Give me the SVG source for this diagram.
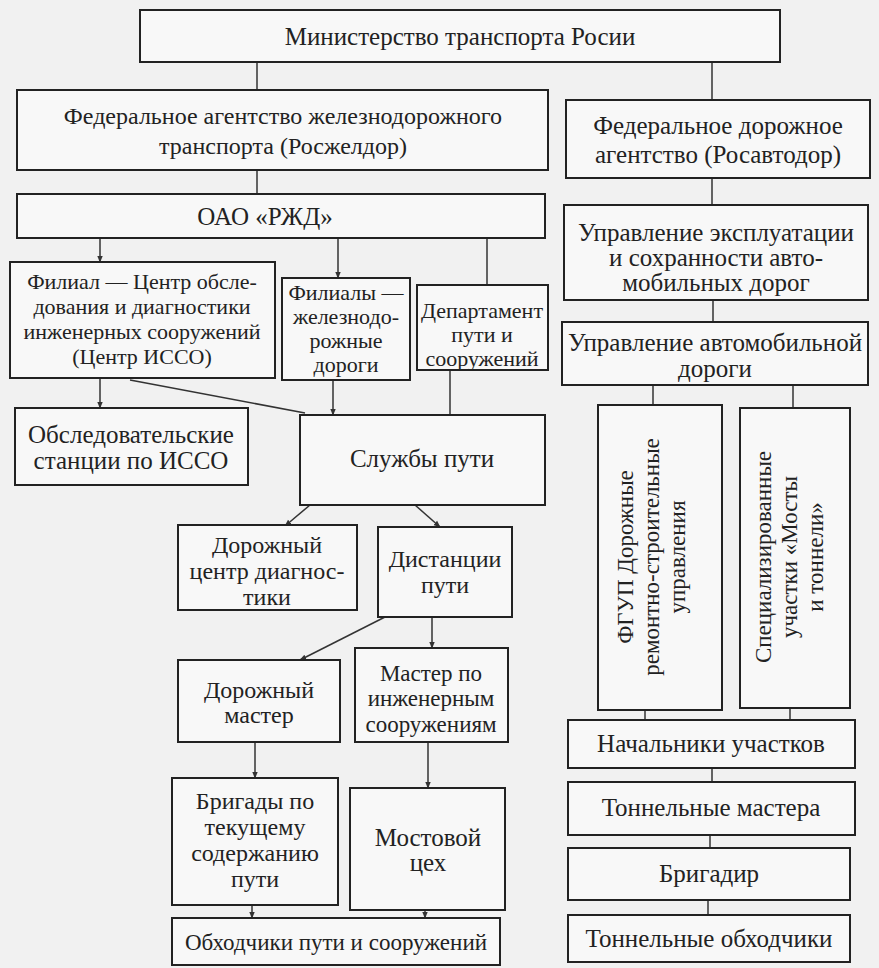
<svg xmlns="http://www.w3.org/2000/svg" width="879" height="968" viewBox="0 0 879 968">
<defs>
<style>
.bx{fill:#f8f8f8;stroke:#222;stroke-width:2}
text{font-family:'Liberation Serif','Times New Roman','DejaVu Serif',serif;font-size:25px;fill:#222;text-anchor:middle}
.s24{font-size:24px}
.s23{font-size:23px}
.s22{font-size:22px}
.c{stroke:#333;stroke-width:1.5;fill:none}
.a{stroke:#333;stroke-width:1.5;fill:none;marker-end:url(#ar)}
</style>
<marker id="ar" viewBox="0 0 10 10" refX="9" refY="5" markerWidth="7" markerHeight="7" orient="auto-start-reverse" markerUnits="userSpaceOnUse">
<path d="M0,1 L10,5 L0,9 z" fill="#333"/>
</marker>
</defs>
<rect width="879" height="968" fill="#f1f1f1"/>
<g id="connectors">
<line class="c" x1="257" y1="62" x2="257" y2="90"/>
<line class="c" x1="712" y1="62" x2="712" y2="100"/>
<line class="c" x1="257" y1="170" x2="257" y2="194"/>
<line class="c" x1="712" y1="178" x2="712" y2="205"/>
<line class="a" x1="100" y1="238" x2="100" y2="262"/>
<line class="a" x1="338" y1="238" x2="338" y2="278"/>
<line class="c" x1="487" y1="238" x2="487" y2="285"/>
<line class="c" x1="713" y1="300" x2="713" y2="322"/>
<line class="a" x1="100" y1="378" x2="100" y2="408"/>
<line class="c" x1="130" y1="380" x2="305" y2="413"/>
<line class="a" x1="333" y1="380" x2="333" y2="415"/>
<line class="c" x1="450" y1="370" x2="450" y2="415"/>
<line class="c" x1="653" y1="385" x2="653" y2="405"/>
<line class="c" x1="793" y1="385" x2="793" y2="408"/>
<line class="a" x1="310" y1="505" x2="285" y2="526"/>
<line class="a" x1="415" y1="505" x2="440" y2="527"/>
<line class="a" x1="385" y1="617" x2="300" y2="660"/>
<line class="a" x1="432" y1="617" x2="432" y2="648"/>
<line class="a" x1="255" y1="742" x2="255" y2="778"/>
<line class="a" x1="428" y1="742" x2="428" y2="788"/>
<line class="a" x1="252" y1="905" x2="252" y2="918"/>
<line class="a" x1="425" y1="910" x2="425" y2="918"/>
<line class="c" x1="645" y1="710" x2="645" y2="720"/>
<line class="c" x1="790" y1="708" x2="790" y2="720"/>
<line class="c" x1="712" y1="768" x2="712" y2="782"/>
<line class="c" x1="710" y1="835" x2="710" y2="848"/>
<line class="c" x1="708" y1="900" x2="708" y2="915"/>
</g>
<g id="ministry"><rect class="bx" x="140" y="10" width="640" height="52"/><text x="460" y="45">Министерство транспорта Росии</text></g>
<g id="roszheldor"><rect class="bx" x="17" y="90" width="531" height="80"/><text class="s24" x="283" y="124">Федеральное агентство железнодорожного</text><text class="s24" x="283" y="154">транспорта (Росжелдор)</text></g>
<g id="rosavtodor"><rect class="bx" x="566" y="100" width="304" height="78"/><text x="718" y="134">Федеральное дорожное</text><text x="718" y="163">агентство (Росавтодор)</text></g>
<g id="rzd"><rect class="bx" x="17" y="194" width="528" height="44"/><text x="265" y="225">ОАО «РЖД»</text></g>
<g id="upr-expl"><rect class="bx" x="564" y="205" width="304" height="95"/><text x="716" y="241">Управление эксплуатации</text><text x="716" y="266">и сохранности авто-</text><text x="716" y="291">мобильных дорог</text></g>
<g id="filial-isso"><rect class="bx" x="10" y="262" width="265" height="116"/><text class="s22" x="142" y="289">Филиал — Центр обсле-</text><text class="s22" x="142" y="314">дования и диагностики</text><text class="s22" x="142" y="339">инженерных сооружений</text><text class="s22" x="142" y="364">(Центр ИССО)</text></g>
<g id="filialy"><rect class="bx" x="282" y="278" width="128" height="102"/><text class="s22" x="346" y="300">Филиалы —</text><text class="s22" x="346" y="324">железнодо-</text><text class="s22" x="346" y="348">рожные</text><text class="s22" x="346" y="372">дороги</text></g>
<g id="department"><rect class="bx" x="417" y="285" width="131" height="85"/><text class="s22" x="482" y="318">Департамент</text><text class="s22" x="482" y="342">пути и</text><text class="s22" x="482" y="366">сооружений</text></g>
<g id="upr-avto"><rect class="bx" x="562" y="322" width="306" height="63"/><text x="715" y="351">Управление автомобильной</text><text x="715" y="377">дороги</text></g>
<g id="obsled"><rect class="bx" x="15" y="408" width="233" height="77"/><text x="131" y="443">Обследовательские</text><text x="131" y="469">станции по ИССО</text></g>
<g id="sluzhby"><rect class="bx" x="300" y="415" width="245" height="90"/><text x="422" y="467">Службы пути</text></g>
<g id="fgup"><rect class="bx" x="598" y="405" width="124" height="305"/><text class="s23" transform="translate(633,557) rotate(-90)">ФГУП Дорожные</text><text class="s23" transform="translate(659,557) rotate(-90)">ремонтно-строительные</text><text class="s23" transform="translate(685,557) rotate(-90)">управления</text></g>
<g id="spec"><rect class="bx" x="740" y="408" width="110" height="300"/><text class="s23" transform="translate(771,557) rotate(-90)">Специализированные</text><text class="s23" transform="translate(797,557) rotate(-90)">участки «Мосты</text><text class="s23" transform="translate(823,557) rotate(-90)">и тоннели»</text></g>
<g id="dor-centr"><rect class="bx" x="178" y="525" width="179" height="85"/><text class="s24" x="267" y="553">Дорожный</text><text class="s24" x="267" y="579">центр диагнос-</text><text class="s24" x="267" y="605">тики</text></g>
<g id="distancii"><rect class="bx" x="378" y="527" width="134" height="90"/><text class="s24" x="445" y="567">Дистанции</text><text class="s24" x="445" y="593">пути</text></g>
<g id="dor-master"><rect class="bx" x="178" y="660" width="162" height="82"/><text class="s24" x="259" y="698">Дорожный</text><text class="s24" x="259" y="723">мастер</text></g>
<g id="master-inzh"><rect class="bx" x="355" y="648" width="153" height="94"/><text class="s23" x="431" y="681">Мастер по</text><text class="s23" x="431" y="706">инженерным</text><text class="s23" x="431" y="732">сооружениям</text></g>
<g id="brigady"><rect class="bx" x="172" y="778" width="166" height="127"/><text class="s24" x="255" y="809">Бригады по</text><text class="s24" x="255" y="835">текущему</text><text class="s24" x="255" y="861">содержанию</text><text class="s24" x="255" y="887">пути</text></g>
<g id="mostovoy"><rect class="bx" x="350" y="788" width="155" height="122"/><text x="428" y="846">Мостовой</text><text x="428" y="871">цех</text></g>
<g id="obhodchiki"><rect class="bx" x="172" y="918" width="328" height="47"/><text class="s23" x="336" y="950">Обходчики пути и сооружений</text></g>
<g id="nachalniki"><rect class="bx" x="568" y="720" width="287" height="48"/><text x="711" y="752">Начальники участков</text></g>
<g id="ton-mastera"><rect class="bx" x="568" y="782" width="287" height="53"/><text x="711" y="816">Тоннельные мастера</text></g>
<g id="brigadir"><rect class="bx" x="568" y="848" width="282" height="52"/><text x="709" y="882">Бригадир</text></g>
<g id="ton-obhod"><rect class="bx" x="568" y="915" width="282" height="47"/><text x="709" y="947">Тоннельные обходчики</text></g>
</svg>
